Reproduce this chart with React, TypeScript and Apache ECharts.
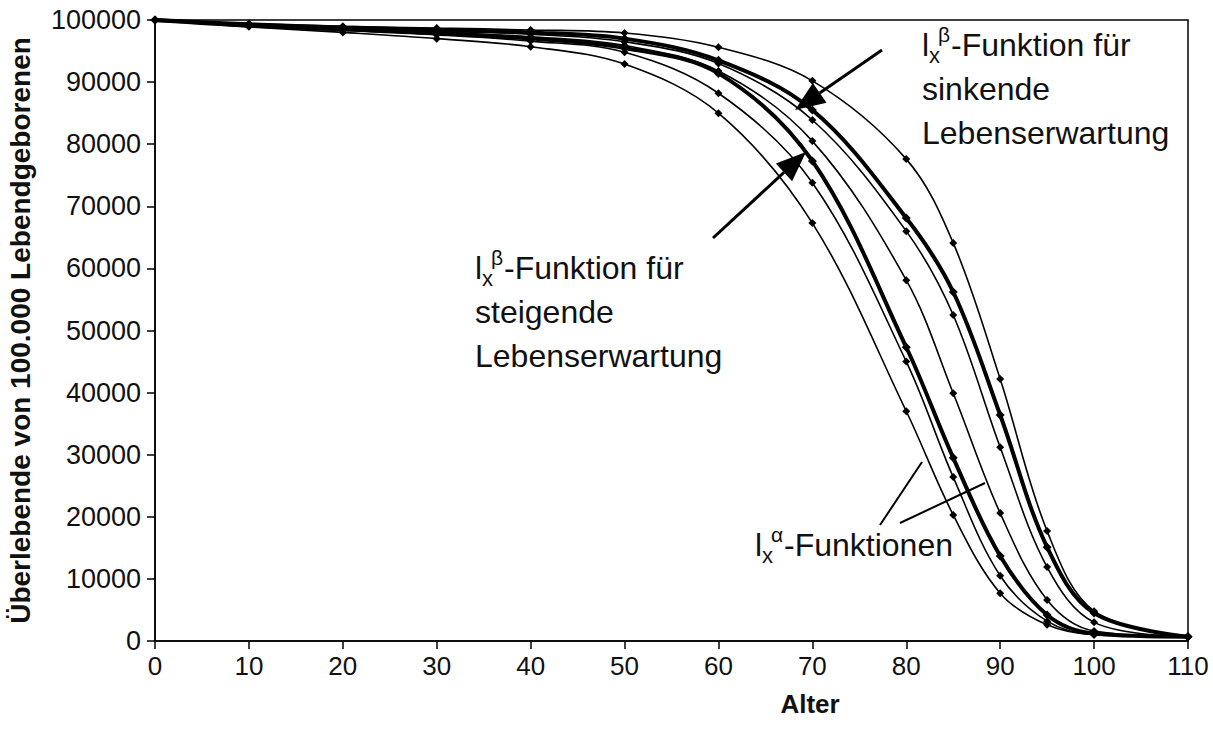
import React, { useEffect, useRef } from "react";
import * as echarts from "echarts";

// Alter (x) and survivors per 100,000 live births (y)
const ages = [0, 10, 20, 30, 40, 50, 60, 70, 80, 85, 90, 95, 100, 110];

// l_x^alpha life tables (thin lines)
const alpha1 = [100000, 99400, 99000, 98700, 98400, 97900, 95600, 90200, 77600, 64100, 42200, 17700, 4800, 700];
const alpha2 = [100000, 99200, 98700, 98200, 97700, 96500, 93000, 83900, 66000, 52500, 31200, 11900, 3000, 700];
const alpha3 = [100000, 99100, 98600, 98000, 97300, 95900, 91800, 80500, 58100, 39900, 20600, 6600, 1600, 700];
const alpha4 = [100000, 99000, 98300, 97600, 96600, 94800, 88200, 73800, 45000, 26400, 10500, 3200, 1000, 700];
const alpha5 = [100000, 98900, 98000, 97000, 95700, 92900, 85000, 67300, 37000, 20300, 7700, 2600, 1000, 700];

// l_x^beta functions (thick lines)
const betaSinkend = [100000, 99300, 98800, 98400, 98000, 97000, 93500, 85500, 68100, 56200, 36400, 15100, 4500, 700];
const betaSteigend = [100000, 99100, 98500, 97900, 97000, 95500, 91400, 77300, 47300, 29500, 13700, 4200, 1200, 700];

const xTicks = { min: 0, max: 110, interval: 10 };
const yTicks = { min: 0, max: 100000, interval: 10000 };

const FONT = '"Liberation Sans", Arial, Helvetica, sans-serif';

const pairs = (ys: number[]) => ages.map((a, i) => [a, ys[i]]);

function lineSeries(name: string, ys: number[], thick: boolean) {
  return {
    name,
    type: "line",
    data: pairs(ys),
    smooth: 0.35,
    symbol: "diamond",
    symbolSize: thick ? 9 : 8,
    itemStyle: { color: "#000" },
    lineStyle: { color: "#000", width: thick ? 4 : 1.6 },
    z: thick ? 3 : 2,
  };
}

const textBase = { fill: "#111", verticalAlign: "middle", textVerticalAlign: "middle", align: "left", textAlign: "left" };

// one line of label text of the form l_x^sym + rest
function indexedLabel(x: number, y: number, sym: string, rest: string) {
  return [
    { type: "text", style: { ...textBase, text: "l", x, y, font: `normal 32px ${FONT}` } },
    { type: "text", style: { ...textBase, text: "x", x: x + 7, y: y + 10, font: `normal 22px ${FONT}` } },
    { type: "text", style: { ...textBase, text: sym, x: x + 16, y: y - 11, font: `normal 21px ${FONT}` } },
    { type: "text", style: { ...textBase, text: rest, x: x + 29, y, font: `normal 32px ${FONT}` } },
  ];
}

function plainLine(x: number, y: number, text: string) {
  return { type: "text", style: { ...textBase, text, x, y, font: `normal 32px ${FONT}` } };
}

function arrow(tail: [number, number], tip: [number, number]) {
  const dx = tip[0] - tail[0];
  const dy = tip[1] - tail[1];
  const len = Math.hypot(dx, dy);
  const ux = dx / len;
  const uy = dy / len;
  const headLen = 30;
  const halfW = 12;
  const bx = tip[0] - ux * headLen;
  const by = tip[1] - uy * headLen;
  return [
    { type: "line", shape: { x1: tail[0], y1: tail[1], x2: bx, y2: by }, style: { stroke: "#000", lineWidth: 3 } },
    {
      type: "polygon",
      shape: { points: [tip, [bx - uy * halfW, by + ux * halfW], [bx + uy * halfW, by - ux * halfW]] },
      style: { fill: "#000" },
    },
  ];
}

export default function App() {
  const ref = useRef<HTMLDivElement>(null);

  useEffect(() => {
    if (!ref.current) return;
    const chart = echarts.init(ref.current, null, { renderer: "svg" });

    const graphics: any[] = [
      ...indexedLabel(922, 45, "β", "-Funktion für"),
      plainLine(922, 89, "sinkende"),
      plainLine(922, 133, "Lebenserwartung"),
      ...indexedLabel(475, 268, "β", "-Funktion für"),
      plainLine(475, 312, "steigende"),
      plainLine(475, 356, "Lebenserwartung"),
      ...indexedLabel(755, 545, "α", "-Funktionen"),
      ...arrow([882, 50], [795, 110]),
      ...arrow([713, 238], [806, 152]),
      { type: "line", shape: { x1: 880, y1: 525, x2: 922, y2: 462 }, style: { stroke: "#000", lineWidth: 2 } },
      { type: "line", shape: { x1: 900, y1: 523, x2: 985, y2: 483 }, style: { stroke: "#000", lineWidth: 2 } },
      {
        type: "text",
        style: { text: "Alter", x: 810, y: 704, fill: "#111", font: `bold 26px ${FONT}`, align: "center", textAlign: "center", verticalAlign: "middle", textVerticalAlign: "middle" },
      },
    ];

    chart.setOption({
      animation: false,
      backgroundColor: "#fff",
      grid: {
        left: 155, right: 25, top: 20, bottom: 97,
        outerBoundsMode: "none", containLabel: false,
        show: true, borderColor: "#000", borderWidth: 1.5, backgroundColor: "transparent",
      },
      xAxis: {
        type: "value",
        ...xTicks,
        axisLine: { lineStyle: { color: "#000", width: 1.5 } },
        axisTick: { show: true, length: 8, lineStyle: { color: "#000", width: 1.5 } },
        axisLabel: { fontFamily: FONT, fontSize: 26, color: "#111", margin: 12 },
        splitLine: { show: false },
      },
      yAxis: {
        type: "value",
        ...yTicks,
        name: "Überlebende von 100.000 Lebendgeborenen",
        nameLocation: "middle",
        nameGap: 121,
        nameTextStyle: { fontFamily: FONT, fontWeight: "bold", fontSize: 28, color: "#111" },
        axisLine: { show: true, lineStyle: { color: "#000", width: 1.5 } },
        axisTick: { show: true, length: 8, lineStyle: { color: "#000", width: 1.5 } },
        axisLabel: { fontFamily: FONT, fontSize: 27, color: "#111", margin: 14, formatter: (v: number) => String(v) },
        splitLine: { show: false },
      },
      series: [
        lineSeries("l_x^α 1", alpha1, false),
        lineSeries("l_x^α 2", alpha2, false),
        lineSeries("l_x^α 3", alpha3, false),
        lineSeries("l_x^α 4", alpha4, false),
        lineSeries("l_x^α 5", alpha5, false),
        lineSeries("l_x^β sinkend", betaSinkend, true),
        lineSeries("l_x^β steigend", betaSteigend, true),
      ],
      graphic: graphics,
    });

    return () => chart.dispose();
  }, []);

  return (
    <div
      ref={ref}
      style={{ position: "absolute", left: 0, top: 0, width: 1213, height: 738, background: "#fff" }}
    />
  );
}
